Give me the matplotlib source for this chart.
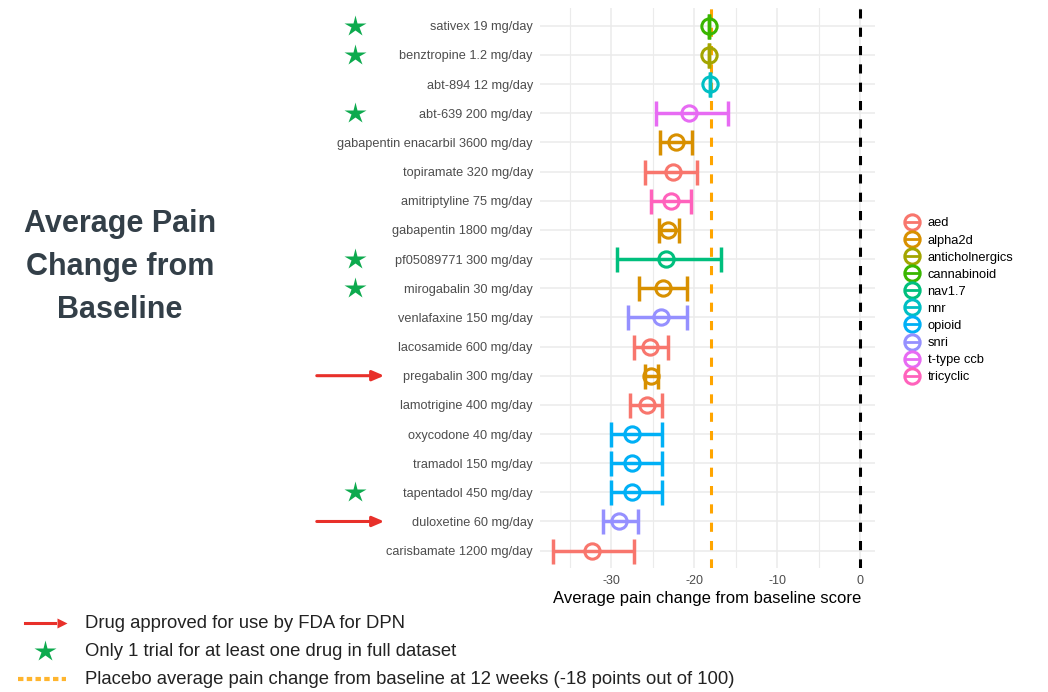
import matplotlib.pyplot as plt
import matplotlib.transforms as mtransforms
from matplotlib.lines import Line2D

# drugs listed top to bottom
drugs = ["sativex 19 mg/day", "benztropine 1.2 mg/day", "abt-894 12 mg/day",
         "abt-639 200 mg/day", "gabapentin enacarbil 3600 mg/day",
         "topiramate 320 mg/day", "amitriptyline 75 mg/day",
         "gabapentin 1800 mg/day", "pf05089771 300 mg/day",
         "mirogabalin 30 mg/day", "venlafaxine 150 mg/day",
         "lacosamide 600 mg/day", "pregabalin 300 mg/day",
         "lamotrigine 400 mg/day", "oxycodone 40 mg/day",
         "tramadol 150 mg/day", "tapentadol 450 mg/day",
         "duloxetine 60 mg/day", "carisbamate 1200 mg/day"]
drug_class = ["cannabinoid", "anticholnergics", "nnr", "t-type ccb", "alpha2d",
              "aed", "tricyclic", "alpha2d", "nav1.7", "alpha2d", "snri", "aed",
              "alpha2d", "aed", "opioid", "opioid", "opioid", "snri", "aed"]
mean_change = [-18.2, -18.2, -18.1, -20.6, -22.2, -22.5, -22.8, -23.1, -23.4,
               -23.8, -24.0, -25.3, -25.2, -25.7, -27.5, -27.5, -27.5, -29.1, -32.3]
ci_low = [-18.2, -18.2, -18.1, -24.6, -24.1, -25.9, -25.2, -24.2, -29.3,
          -26.6, -28.0, -27.3, -25.9, -27.7, -30.0, -30.0, -30.0, -31.0, -37.0]
ci_high = [-18.2, -18.2, -18.1, -15.9, -20.2, -19.7, -20.4, -21.8, -16.8,
           -20.9, -20.9, -23.1, -24.4, -23.9, -23.9, -23.9, -23.9, -26.8, -27.2]
single_trial = ["sativex 19 mg/day", "benztropine 1.2 mg/day", "abt-639 200 mg/day",
                "pf05089771 300 mg/day", "mirogabalin 30 mg/day", "tapentadol 450 mg/day"]
fda_approved = ["pregabalin 300 mg/day", "duloxetine 60 mg/day"]
placebo = -18

classes = ["aed", "alpha2d", "anticholnergics", "cannabinoid", "nav1.7",
           "nnr", "opioid", "snri", "t-type ccb", "tricyclic"]
class_colors = ["#F8766D", "#D89000", "#A3A500", "#39B600", "#00BF7D",
                "#00BFC4", "#00B0F6", "#9590FF", "#E76BF3", "#FF62BC"]
color_of = dict(zip(classes, class_colors))

plt.rcParams['font.family'] = ['Liberation Sans', 'DejaVu Sans']
plt.rcParams['axes.unicode_minus'] = False

fig = plt.figure(figsize=(10.48, 6.92), dpi=100)
ax = fig.add_axes([0.515, 0.179, 0.32, 0.809])

n = len(drugs)
ypos = list(range(n - 1, -1, -1))

for y, m, lo, hi, c in zip(ypos, mean_change, ci_low, ci_high, drug_class):
    col = color_of[c]
    ax.errorbar([m], [y], xerr=[[m - lo], [hi - m]], fmt='none', ecolor=col,
                elinewidth=2.5, capsize=9, capthick=2.5, zorder=3)
    ax.plot([m], [y], marker='o', ms=11, mfc='none', mec=col, mew=2.2, zorder=4)

ax.axvline(placebo, color='#FFA500', ls=(0, (3, 3)), lw=2.2, zorder=2)
ax.axvline(0, color='black', ls=(0, (3, 3)), lw=2.2, zorder=2)

ax.set_xlim(-38.6, 1.8)
ax.set_ylim(-0.6, n - 0.4)
ax.set_yticks(ypos)
ax.set_yticklabels(drugs, fontsize=9.2, color='#4D4D4D')
ax.set_xticks([-30, -20, -10, 0])
ax.set_xticks([-35, -25, -15, -5], minor=True)
ax.tick_params(axis='x', labelsize=9, colors='#4D4D4D', length=0, pad=5)
ax.tick_params(axis='x', which='minor', length=0)
ax.tick_params(axis='y', length=0, pad=5)
ax.grid(True, which='major', color='#EBEBEB', lw=1.1)
ax.grid(True, which='minor', axis='x', color='#EBEBEB', lw=0.8)
ax.set_axisbelow(True)
for s in ax.spines.values():
    s.set_visible(False)
ax.set_xlabel("Average pain change from baseline score", fontsize=12,
              color='black', labelpad=3)

# class legend on the right
handles = [Line2D([0], [0], color=col, lw=2, marker='o', ms=11, mfc='none', mew=2.2)
           for col in class_colors]
fig.legend(handles, classes, loc='center left', bbox_to_anchor=(0.853, 0.566),
           frameon=False, fontsize=9.3, handlelength=1.0, handletextpad=0.7,
           labelspacing=0.39)

# stars and arrows beside the drug names
tr = mtransforms.blended_transform_factory(fig.transFigure, ax.transData)
for d in single_trial:
    y = ypos[drugs.index(d)]
    ax.plot([355 / 1048], [y], marker='*', ms=16, color='#0DAA4E', mec='none',
            transform=tr, clip_on=False)
for d in fda_approved:
    y = ypos[drugs.index(d)]
    ax.annotate("", xy=(387 / 1048, y), xytext=(314 / 1048, y),
                xycoords=tr, textcoords=tr,
                arrowprops=dict(arrowstyle='-|>,head_length=0.7,head_width=0.3',
                                color='#E8302A', lw=2.2))

fig.text(120 / 1048, 1 - 267 / 692, "Average Pain\nChange from\nBaseline",
         ha='center', va='center', fontsize=22, fontweight='bold',
         color='#333F48', linespacing=1.55)

# notes under the chart
fig.add_artist(Line2D([25 / 1048, 55 / 1048], [1 - 623 / 692] * 2,
                      color='#E8302A', lw=2.2))
fig.add_artist(Line2D([62 / 1048], [1 - 623 / 692], marker='>', ms=7,
                      color='#E8302A', mec='none'))
fig.text(85 / 1048, 1 - 623 / 692, "Drug approved for use by FDA for DPN",
         fontsize=13.3, va='center', color='#222222')
fig.add_artist(Line2D([45 / 1048], [1 - 651 / 692], marker='*', ms=16,
                      color='#0DAA4E', mec='none'))
fig.text(85 / 1048, 1 - 651 / 692, "Only 1 trial for at least one drug in full dataset",
         fontsize=13.3, va='center', color='#222222')
fig.add_artist(Line2D([18 / 1048, 66 / 1048], [1 - 679 / 692] * 2,
                      color='#FFB52E', lw=3, ls=(0, (1.3, 0.8))))
fig.text(85 / 1048, 1 - 679 / 692,
         "Placebo average pain change from baseline at 12 weeks (-18 points out of 100)",
         fontsize=13.3, va='center', color='#222222')

fig.savefig('out.png', dpi=100)
